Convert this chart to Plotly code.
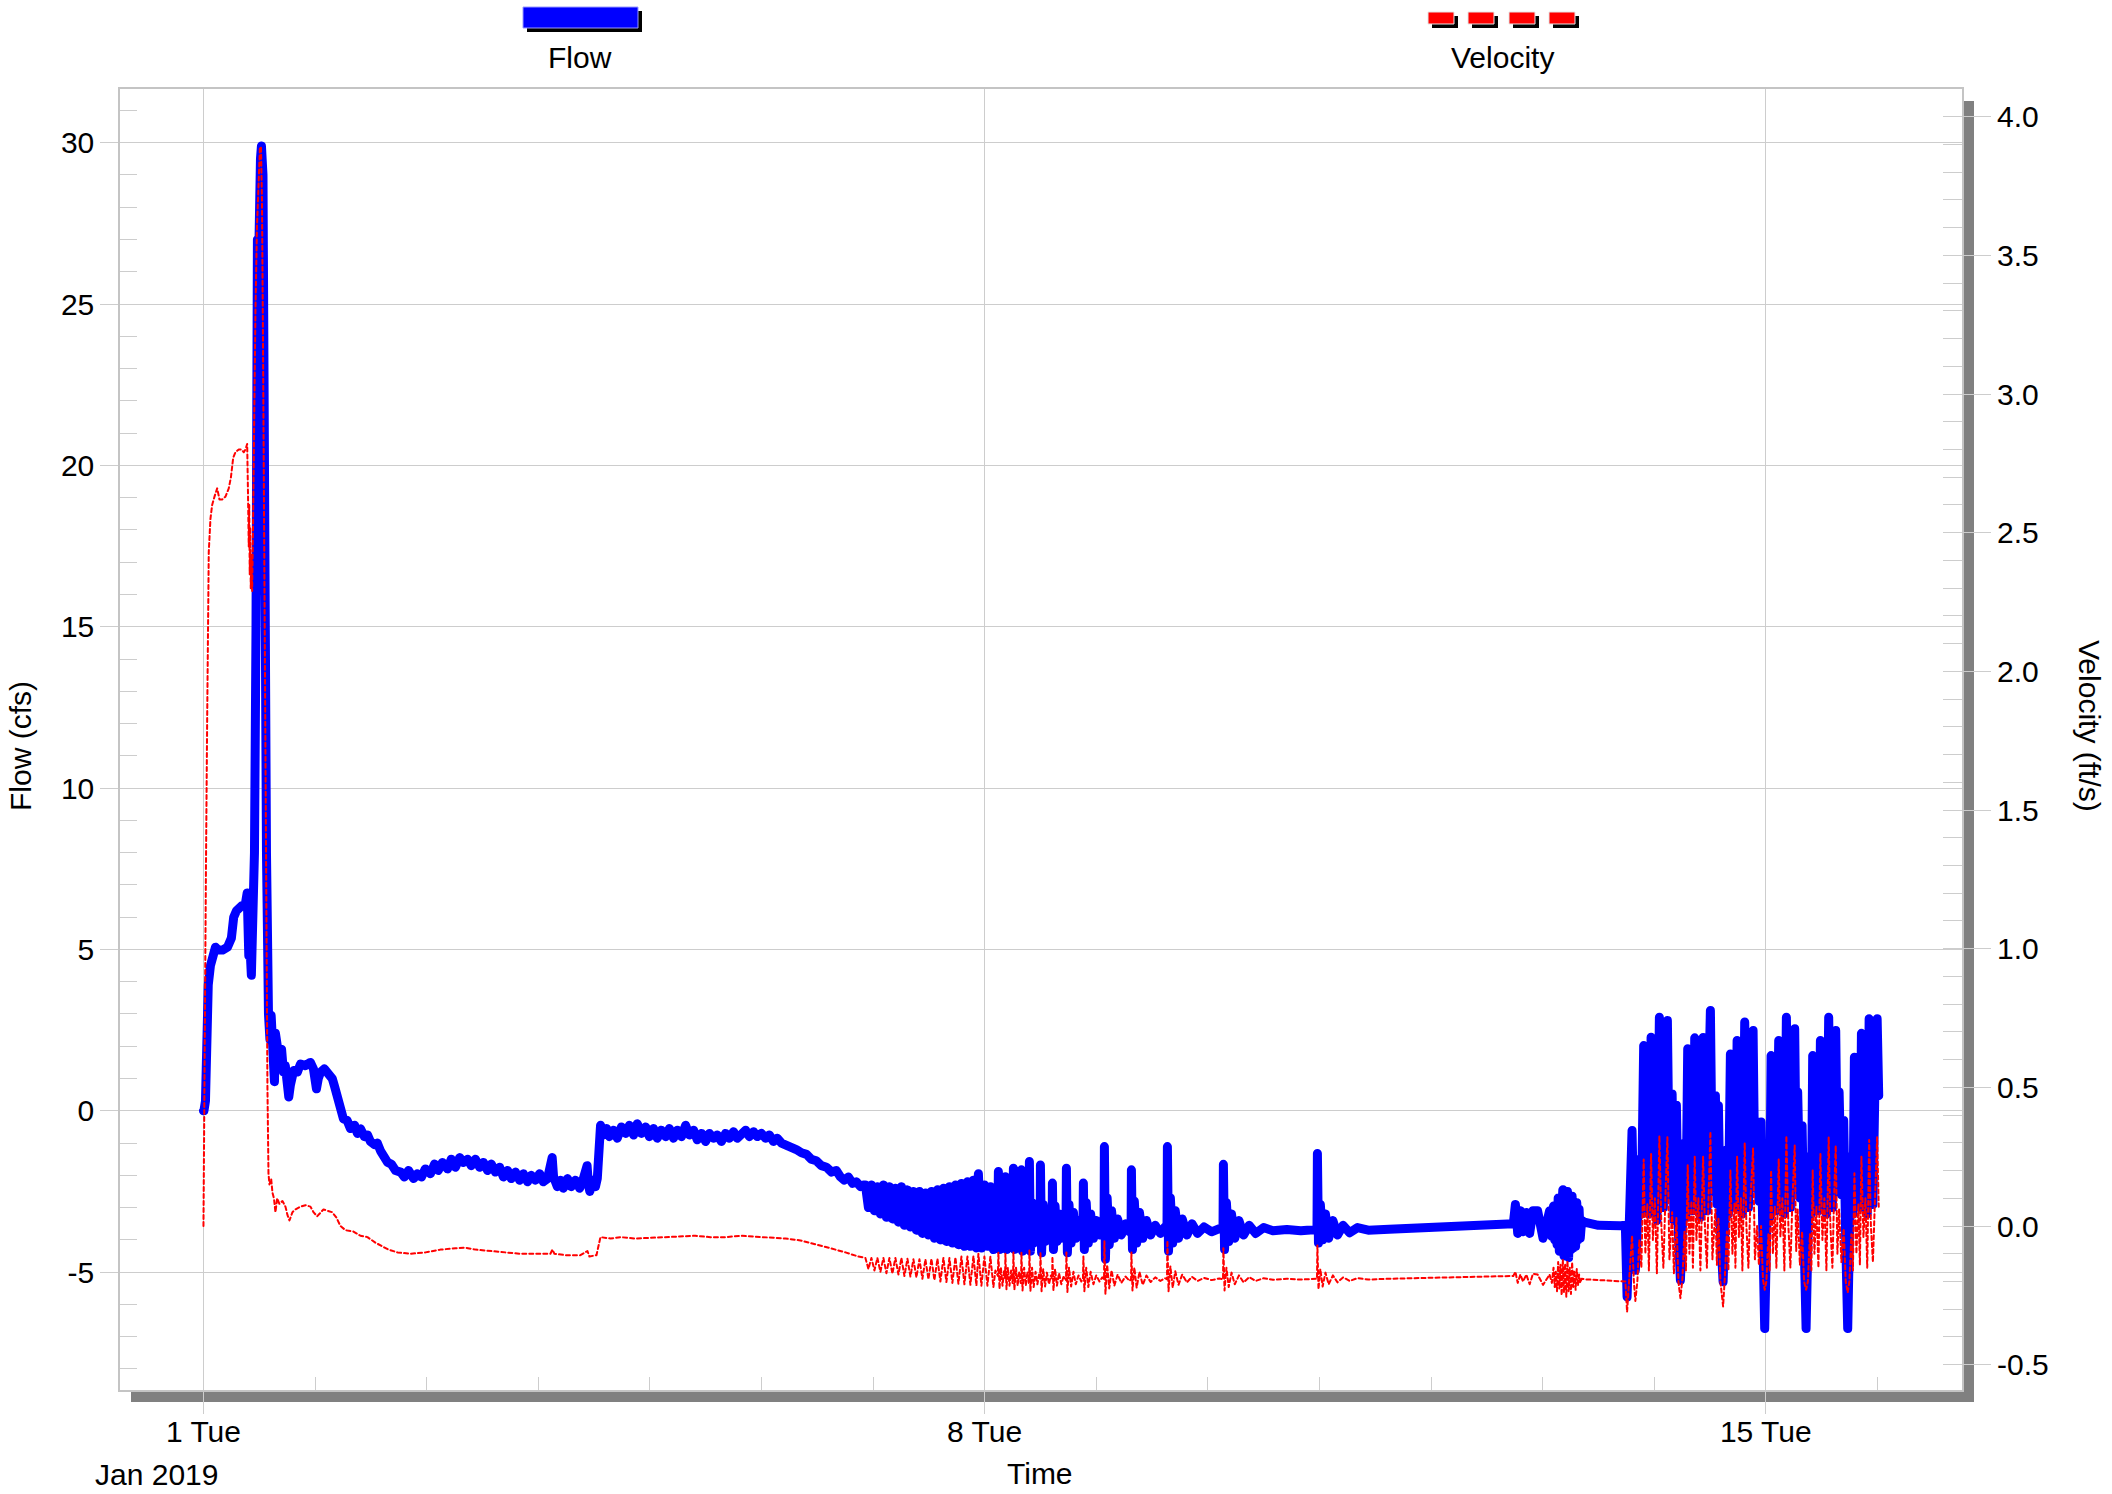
import pandas as pd
import plotly.graph_objects as go

START = pd.Timestamp("2019-01-01 00:00")

# ---- Jan 1 storm through Jan 7: flow (hours since start, cfs) ----
flow_hours_a = [
    0.0, 0.1, 0.43, 0.8, 1.03, 1.5, 2.04, 2.58, 3.2, 4.1,
    5.16, 6.0, 6.5, 7.1, 8.3, 9.0, 9.4, 9.55, 9.75, 10.0,
    10.3, 10.65, 10.97, 11.3, 11.6, 11.94, 12.26, 12.47, 12.8, 13.1,
    13.55, 13.98, 14.3, 14.56, 14.84, 15.27, 15.48, 15.85, 16.3, 16.8,
    17.2, 17.6, 18.35, 18.7, 19.4, 20.2, 20.86, 21.9, 23.0, 23.65,
    24.3, 24.7, 25.2, 26.0, 26.9, 27.7, 28.2, 28.75, 29.5, 30.1,
    30.9, 31.6, 32.5, 33.1, 33.8, 34.6, 35.3, 35.9, 36.8, 37.4,
    38.1, 38.9, 39.6, 40.4, 41.3, 42.4, 43.2, 44.1, 45.2, 46.0,
    46.9, 47.7, 48.8, 49.7, 50.5, 51.4, 52.5, 53.3, 54.2, 55.1,
    55.9, 56.8, 57.6, 58.5, 59.4, 60.2, 61.1, 61.9, 62.8, 63.7,
    64.5, 65.4, 66.2, 67.1, 68.0, 68.8, 69.7, 70.5, 71.4, 72.3,
    73.1, 74.0, 74.6, 75.0, 75.3, 76.1, 76.8, 77.4, 78.3, 79.1,
    80.0, 80.9, 81.5, 82.1, 82.5, 82.8, 83.1, 83.7, 84.3, 84.7,
    85.05, 85.4, 86.0, 86.7, 87.3, 88.2, 89.0, 89.9, 90.8, 91.6,
    92.5, 93.3, 94.2, 95.1, 95.9, 96.8, 97.6, 98.5, 99.4, 100.2,
    101.1, 101.9, 102.8, 103.7, 104.5, 105.4, 106.2, 107.1, 108.0, 108.8,
    109.7, 110.5, 111.4, 112.3, 113.1, 114.0, 114.8, 115.7, 116.6, 117.4,
    118.3, 119.1, 120.0, 120.9, 121.7, 122.6, 123.4, 124.3, 125.4, 126.4,
    127.5, 128.6, 129.7, 130.7, 131.8, 132.9, 134.0, 135.1, 136.1, 137.0,
    137.8, 138.7, 139.6, 140.4, 141.3, 141.9,
]
flow_cfs_a = [
    0.0, 0.0, 0.3, 2.95, 3.9, 4.5, 4.9, 5.07, 4.98, 4.98,
    5.07, 5.35, 6.0, 6.2, 6.36, 6.4, 6.75, 5.5, 4.8, 5.1,
    4.2, 5.5, 8.0, 15.0, 27.0, 26.9, 29.5, 29.9, 29.0, 15.0,
    8.0, 3.0, 2.2, 2.95, 1.6, 0.9, 2.4, 2.0, 1.6, 1.9,
    1.2, 1.4, 0.43, 0.8, 1.25, 1.2, 1.45, 1.4, 1.5, 1.3,
    0.68, 1.0, 1.2, 1.3, 1.15, 1.0, 0.75, 0.47, -0.03, -0.25,
    -0.3, -0.55, -0.45, -0.7, -0.56, -0.8, -0.75, -0.95, -1.05, -1.0,
    -1.25, -1.5, -1.6, -1.65, -1.85, -1.9, -2.05, -1.85, -2.1, -1.95,
    -2.05, -1.8, -1.95, -1.65, -1.85, -1.6, -1.8, -1.5, -1.75, -1.45,
    -1.6, -1.5, -1.7, -1.5, -1.75, -1.6, -1.85, -1.65, -1.9, -1.75,
    -2.05, -1.85, -2.1, -1.9, -2.15, -1.95, -2.2, -2.0, -2.15, -1.95,
    -2.2, -2.1, -1.8, -1.45, -2.05, -2.35, -2.15, -2.4, -2.1, -2.35,
    -2.15, -2.4, -2.2, -2.0, -1.7, -2.3, -2.5, -2.15, -2.35, -2.1,
    -1.2, -0.45, -0.75, -0.55, -0.8, -0.6, -0.85, -0.5, -0.7, -0.45,
    -0.75, -0.4, -0.7, -0.5, -0.8, -0.55, -0.85, -0.6, -0.8, -0.55,
    -0.85, -0.6, -0.8, -0.45, -0.75, -0.6, -0.9, -0.7, -0.95, -0.7,
    -0.85, -0.75, -0.95, -0.7, -0.85, -0.65, -0.85, -0.7, -0.6, -0.8,
    -0.65, -0.8, -0.7, -0.85, -0.75, -0.95, -0.85, -1.0, -1.05, -1.15,
    -1.2, -1.3, -1.35, -1.5, -1.55, -1.7, -1.75, -1.9, -1.85, -2.05,
    -2.15, -2.05, -2.25, -2.2, -2.35, -2.3,
]

# ---- Jan 1 storm through Jan 7: velocity (hours since start, ft/s) ----
vel_hours_a = [
    0.0, 0.32, 0.54, 0.8, 0.97, 1.14, 1.5, 1.87, 2.37, 2.95,
    3.44, 4.02, 4.73, 5.44, 5.91, 6.39, 6.88, 7.59, 8.17, 8.67,
    9.03, 9.4, 9.57, 9.74, 9.85, 9.95, 10.06, 10.17, 10.32, 10.47,
    10.64, 10.86, 11.18, 11.5, 11.83, 12.15, 12.37, 12.58, 12.8, 13.12,
    13.44, 13.76, 13.98, 14.19, 14.56, 14.84, 15.16, 15.48, 15.85, 16.34,
    16.99, 17.63, 18.06, 18.49, 19.14, 19.78, 20.86, 21.93, 23.01, 23.66,
    24.45, 25.16, 25.81, 26.67, 27.68, 28.6, 29.46, 30.54, 32.26, 33.76,
    35.27, 36.99, 38.06, 39.78, 41.72, 44.52, 47.74, 50.97, 54.19, 56.34,
    58.49, 61.72, 64.95, 68.17, 71.4, 74.62, 75.05, 75.48, 77.85, 81.07,
    82.58, 83.01, 84.52, 84.95, 85.38, 87.53, 89.68, 92.9, 96.13, 99.35,
    102.58, 105.8, 109.03, 112.26, 115.48, 118.71, 121.93, 125.16, 128.38, 131.61,
    134.83, 138.06, 140.86,
]
vel_fps_a = [
    0.0, 0.6, 1.3, 1.83, 2.2, 2.43, 2.55, 2.6, 2.63, 2.66,
    2.62, 2.62, 2.63, 2.66, 2.7, 2.77, 2.79, 2.8, 2.8, 2.79,
    2.8, 2.82, 2.65, 2.45, 2.6, 2.35, 2.52, 2.3, 2.42, 2.29,
    2.5, 2.9, 3.3, 3.6, 3.75, 3.89, 3.89, 3.7, 3.2, 2.2,
    1.2, 0.5, 0.19, 0.15, 0.17, 0.12, 0.1, 0.05, 0.1, 0.08,
    0.09, 0.07, 0.04, 0.02, 0.05, 0.06, 0.07, 0.075, 0.07, 0.05,
    0.035, 0.05, 0.06, 0.055, 0.05, 0.03, 0.0, -0.015, -0.02, -0.035,
    -0.04, -0.06, -0.07, -0.085, -0.095, -0.1, -0.095, -0.085, -0.08, -0.078,
    -0.085, -0.09, -0.095, -0.1, -0.1, -0.1, -0.085, -0.1, -0.105, -0.105,
    -0.09, -0.11, -0.105, -0.07, -0.04, -0.045, -0.04, -0.045, -0.042, -0.04,
    -0.037, -0.035, -0.04, -0.04, -0.035, -0.038, -0.04, -0.045, -0.052, -0.065,
    -0.08, -0.095, -0.11,
]

# ---- Jan 7 oscillation (both series on the same timestamps) ----
osc_hours = [
    142.36, 143.01, 143.65, 144.30, 144.94, 145.59, 146.23, 146.88, 147.52, 148.17,
    148.81, 149.46, 150.10, 150.75, 151.40, 152.04, 152.69, 153.33, 153.98, 154.62,
    155.27, 155.91, 156.56, 157.20, 157.85, 158.49, 159.14, 159.78, 160.43, 161.07,
    161.72, 162.36, 163.01, 163.65, 164.30, 164.94, 165.59, 166.23, 166.66, 167.31,
    167.95, 168.60, 169.24, 169.89, 170.32,
]
osc_flow = [
    -2.3, -3.0, -2.3, -3.1, -2.35, -3.2, -2.3, -3.3, -2.35, -3.35,
    -2.4, -3.45, -2.35, -3.55, -2.45, -3.6, -2.5, -3.7, -2.5, -3.8,
    -2.55, -3.85, -2.5, -3.95, -2.45, -4.0, -2.4, -4.05, -2.35, -4.1,
    -2.3, -4.15, -2.25, -4.2, -2.2, -4.2, -2.15, -4.25, -1.95, -4.25,
    -2.3, -4.2, -2.35, -4.3, -3.0,
]
osc_vel = [
    -0.115, -0.155, -0.115, -0.16, -0.115, -0.165, -0.115, -0.17, -0.115, -0.172,
    -0.115, -0.175, -0.115, -0.18, -0.118, -0.182, -0.12, -0.185, -0.12, -0.19,
    -0.12, -0.192, -0.118, -0.195, -0.118, -0.2, -0.115, -0.202, -0.115, -0.205,
    -0.113, -0.208, -0.11, -0.21, -0.11, -0.212, -0.108, -0.215, -0.1, -0.215,
    -0.11, -0.215, -0.11, -0.22, -0.16,
]

# ---- Jan 8 - Jan 12: surges with ringing ----
spike_hours = [
    170.85, 170.96, 171.2, 171.5, 171.85, 172.2, 172.4,
    172.47, 172.7, 173.0, 173.35, 173.7, 174.0, 174.12,
    174.19, 174.4, 174.75, 175.1, 175.45, 175.75, 175.85,
    175.91, 176.15, 176.5, 176.85, 177.2, 177.5, 177.58,
    177.63, 177.85, 178.2, 178.55, 178.95, 179.35, 179.7, 179.95,
    180.0, 180.25, 180.6, 181.0, 181.4, 181.85, 182.25, 182.52,
    182.58, 182.8, 183.15, 183.55, 184.0, 184.5, 185.0, 185.5,
    185.59, 185.8, 186.15, 186.6, 187.1, 187.6, 188.2, 188.8, 189.15,
    189.24, 189.45, 189.85, 190.3, 190.8, 191.4, 192.0, 192.7, 193.3, 193.68,
    193.76, 193.98, 194.35, 194.8, 195.3, 195.9, 196.6, 197.4, 198.3, 199.2, 199.5,
    199.57, 199.8, 200.2, 200.7, 201.3, 202.0, 202.8, 203.7, 204.7, 205.8, 206.8, 207.22,
    207.31, 207.55, 207.95, 208.45, 209.0, 209.7, 210.5, 211.5, 212.6, 213.8, 215.2, 216.8, 218.5, 219.27,
    219.35, 219.6, 220.0, 220.5, 221.1, 221.8, 222.7, 223.7, 224.9, 226.3, 228.0, 230.0, 233.0, 236.0, 239.48,
    239.57, 239.8, 240.2, 240.7, 241.3, 242.0, 242.9, 243.9, 245.1, 246.5, 248.2, 250.5, 255.0, 262.0, 270.0, 278.0, 281.7,
]
spike_flow = [
    -3.3, -1.88, -4.3, -2.9, -4.0, -3.1, -3.4,
    -2.04, -4.3, -2.8, -4.0, -3.0, -3.8, -3.3,
    -1.78, -4.3, -2.85, -4.05, -3.05, -3.9, -3.4,
    -1.83, -4.35, -2.9, -4.05, -3.1, -3.85, -3.4,
    -1.57, -4.35, -2.85, -4.1, -3.1, -3.95, -3.3, -3.6,
    -1.68, -4.4, -2.9, -4.05, -3.15, -3.95, -3.35, -3.65,
    -2.24, -4.3, -2.95, -4.05, -3.2, -3.95, -3.4, -3.7,
    -1.78, -4.4, -2.9, -4.1, -3.15, -3.95, -3.4, -3.85, -3.6,
    -2.24, -4.3, -2.85, -4.1, -3.2, -3.95, -3.4, -3.85, -3.55, -3.7,
    -1.11, -4.6, -2.7, -4.15, -3.1, -3.95, -3.35, -3.85, -3.5, -3.75, -3.65,
    -1.83, -4.3, -2.8, -4.1, -3.15, -3.95, -3.4, -3.85, -3.55, -3.8, -3.6, -3.7,
    -1.11, -4.35, -2.7, -4.1, -3.1, -3.95, -3.35, -3.85, -3.5, -3.8, -3.6, -3.75, -3.65, -3.7,
    -1.66, -4.3, -2.85, -4.05, -3.2, -3.95, -3.4, -3.85, -3.55, -3.8, -3.62, -3.72, -3.68, -3.72, -3.68,
    -1.32, -4.1, -2.9, -4.0, -3.2, -3.95, -3.4, -3.85, -3.55, -3.78, -3.62, -3.7, -3.67, -3.64, -3.6, -3.56, -3.5,
]
spike_vel = [
    -0.18, -0.095, -0.227, -0.15, -0.215, -0.16, -0.19,
    -0.1, -0.228, -0.15, -0.215, -0.16, -0.205, -0.18,
    -0.095, -0.23, -0.15, -0.215, -0.165, -0.205, -0.18,
    -0.095, -0.232, -0.15, -0.215, -0.165, -0.205, -0.18,
    -0.088, -0.235, -0.15, -0.22, -0.165, -0.21, -0.175, -0.19,
    -0.095, -0.235, -0.155, -0.218, -0.168, -0.21, -0.178, -0.19,
    -0.11, -0.232, -0.155, -0.215, -0.17, -0.21, -0.18, -0.195,
    -0.095, -0.238, -0.15, -0.218, -0.165, -0.21, -0.178, -0.2, -0.19,
    -0.11, -0.235, -0.15, -0.22, -0.165, -0.21, -0.178, -0.2, -0.185, -0.192,
    -0.055, -0.245, -0.14, -0.225, -0.16, -0.215, -0.175, -0.205, -0.182, -0.198, -0.19,
    -0.095, -0.232, -0.15, -0.222, -0.165, -0.212, -0.178, -0.202, -0.185, -0.198, -0.188, -0.192,
    -0.053, -0.235, -0.145, -0.222, -0.163, -0.212, -0.175, -0.203, -0.183, -0.198, -0.187, -0.195, -0.189, -0.192,
    -0.08, -0.232, -0.15, -0.22, -0.168, -0.21, -0.178, -0.203, -0.184, -0.198, -0.188, -0.194, -0.19, -0.193, -0.19,
    -0.07, -0.228, -0.155, -0.218, -0.168, -0.21, -0.178, -0.203, -0.185, -0.198, -0.188, -0.193, -0.19, -0.188, -0.186, -0.183, -0.18,
]

# ---- Jan 12 - Jan 13: short disturbance, then quiet ----
calm_hours = [
    282.15, 282.65, 283.22, 283.79, 284.5, 285.22, 285.93, 286.93, 288.1, 289.5, 290.0,
    290.35, 290.6, 290.85, 291.1, 291.35, 291.6, 291.85, 292.1, 292.35, 292.6,
    292.85, 293.1, 293.35, 293.6, 293.85, 294.1, 294.35, 294.6, 294.85, 295.1,
    295.35, 295.6, 295.85, 296.1, 296.4, 297.0, 300.0, 304.73,
]
calm_flow = [
    -2.9, -3.8, -3.1, -3.75, -3.15, -3.8, -3.1, -3.1, -3.95, -3.1, -3.9,
    -2.95, -4.0, -3.0, -4.15, -2.7, -4.35, -2.6, -4.2, -2.45, -4.5,
    -2.55, -4.4, -2.5, -4.55, -2.7, -4.3, -2.65, -4.25, -2.9, -4.2,
    -2.85, -4.0, -3.05, -3.95, -3.4, -3.45, -3.55, -3.56,
]
calm_vel = [
    -0.165, -0.205, -0.175, -0.2, -0.175, -0.21, -0.172, -0.175, -0.212, -0.175, -0.205,
    -0.15, -0.22, -0.165, -0.235, -0.13, -0.225, -0.14, -0.25, -0.12, -0.24,
    -0.135, -0.255, -0.125, -0.235, -0.15, -0.245, -0.13, -0.22, -0.16, -0.23,
    -0.155, -0.215, -0.175, -0.205, -0.19, -0.192, -0.195, -0.198,
]

# ---- Jan 13 - Jan 16: daily pumping cycles ----
cycle_hours = [
    305.8, 306.17, 306.55, 307.24, 307.63, 307.95, 308.38, 308.81, 309.24,
    309.74, 310.1, 310.53, 310.86, 311.33, 311.72, 312.15, 312.58, 313.12, 313.55,
    313.98, 314.41, 314.84, 315.28, 315.86, 316.24, 316.78, 317.21, 317.64, 318.07,
    318.5, 318.83,
    319.21, 319.58, 320.01, 320.33, 320.72, 321.08, 321.51, 321.94, 322.52, 322.91,
    323.34, 323.66, 324.09, 324.52, 325.17, 325.49, 325.81, 326.24, 326.82, 327.21,
    327.64, 327.96,
    328.39, 328.82, 329.25, 329.47, 329.83, 330.22, 330.65, 330.97, 331.47, 331.83,
    332.26, 332.69, 333.27, 333.66, 334.13, 334.52, 334.99, 335.38, 335.77, 336.13,
    336.56, 336.84,
    337.14, 337.53, 337.96, 338.28, 338.78, 339.14, 339.57, 340.0, 340.43, 340.86,
    341.29, 341.72, 342.22, 342.54, 342.86, 343.34, 343.81, 344.24, 344.67, 345.06,
    345.49, 345.81,
    346.09, 346.46, 346.89, 347.32, 347.75, 348.18, 348.61, 349.04, 349.53, 349.9,
    350.33, 350.65, 351.04, 351.4, 351.77, 352.26, 352.76, 353.19, 353.62, 353.98,
    354.41, 354.74,
    355.06, 355.49, 355.92, 356.24, 356.57, 357.0, 357.43, 357.82, 358.23, 358.61,
    359.04, 359.47, 359.95, 360.29,
]
cycle_flow = [
    -3.55, -5.77, -3.8, -0.61, -3.5, -4.94, -3.6, -1.5, -3.2,
    2.02, -2.5, 0.3, -3.2, 2.28, -1.8, 0.8, -3.4, 2.9, -0.8,
    -3.0, 0.9, 2.8, -2.6, 0.52, -3.4, 0.17, -3.8, -5.25, -3.6,
    -1.0, -3.3,
    1.92, -2.2, 0.6, -3.1, 2.26, -1.5, 0.7, -3.3, 2.27, -0.9,
    -3.1, 0.4, 3.11, -2.5, 0.47, -2.9, 0.16, -3.7, -5.3, -3.5,
    -1.2, -3.2,
    1.76, -2.3, 0.4, -3.0, 2.18, -1.4, 0.8, -3.2, 2.75, -0.8,
    -3.0, 0.6, 2.49, -2.4, -0.35, -2.8, -0.35, -4.0, -6.75, -4.2,
    -1.5, -3.3,
    1.71, -2.3, 0.5, -3.1, 2.18, -1.3, 0.7, -3.2, 2.9, -0.9,
    -3.0, 0.6, 2.54, -1.8, 0.58, -2.7, -0.46, -4.0, -6.75, -4.0,
    -1.4, -3.2,
    1.71, -2.2, 0.5, -3.1, 2.18, -1.4, 0.7, -3.2, 2.9, -0.9,
    -3.0, 0.6, 2.49, -1.9, 0.58, -2.6, -0.3, -4.0, -6.75, -4.0,
    -1.4, -3.2,
    1.66, -2.2, 0.6, -3.0, 2.4, -1.3, 0.8, -3.2, 2.85, -0.9,
    -2.9, 0.7, 2.85, 0.47,
]
cycle_vel = [
    -0.2, -0.31, -0.2, -0.035, -0.2, -0.27, -0.2, -0.05, -0.15,
    0.24, -0.1, 0.08, -0.16, 0.26, -0.05, 0.1, -0.17, 0.325, 0.0,
    -0.15, 0.1, 0.32, -0.12, 0.05, -0.17, 0.03, -0.2, -0.26, -0.19,
    -0.02, -0.16,
    0.22, -0.1, 0.09, -0.15, 0.25, -0.05, 0.1, -0.16, 0.25, 0.0,
    -0.15, 0.08, 0.34, -0.12, 0.06, -0.14, 0.03, -0.2, -0.29, -0.18,
    -0.02, -0.16,
    0.2, -0.1, 0.08, -0.15, 0.25, -0.04, 0.1, -0.16, 0.3, 0.0,
    -0.15, 0.09, 0.28, -0.12, 0.0, -0.14, 0.0, -0.19, -0.23, -0.2,
    -0.03, -0.16,
    0.2, -0.1, 0.07, -0.15, 0.24, -0.04, 0.1, -0.16, 0.325, 0.0,
    -0.15, 0.09, 0.29, -0.09, 0.06, -0.14, -0.02, -0.2, -0.23, -0.2,
    -0.03, -0.16,
    0.2, -0.1, 0.07, -0.15, 0.26, -0.05, 0.1, -0.16, 0.32, 0.0,
    -0.15, 0.08, 0.29, -0.1, 0.06, -0.13, -0.01, -0.2, -0.24, -0.2,
    -0.03, -0.16,
    0.19, -0.1, 0.08, -0.14, 0.25, -0.04, 0.1, -0.15, 0.31, 0.0,
    -0.13, 0.09, 0.32, 0.07,
]

# ---- axis ticks ----
time_tick_days = [0, 7, 14]
time_tick_text = ["1 Tue", "8 Tue", "15 Tue"]
flow_ticks = [-5, 0, 5, 10, 15, 20, 25, 30]
vel_ticks = [-0.5, 0.0, 0.5, 1.0, 1.5, 2.0, 2.5, 3.0, 3.5, 4.0]

FONT = "Liberation Sans, Arial, sans-serif"
GRID = "#cdcdcd"
FLOW_COLOR = "#0000ff"
VEL_COLOR = "#ff0000"

# plot-area geometry in pixels (used to place decorations outside the axes)
W, H = 2112, 1494
PL, PR, PT, PB = 120, 150, 89, 104
PW, PH = W - PL - PR, H - PT - PB


def fx(px):
    return (px - PL) / PW


def fy(py):
    return (H - PB - py) / PH


def to_time(hours):
    return START + pd.to_timedelta(pd.Series(hours, dtype=float), unit="h")


flow_t = to_time(flow_hours_a + osc_hours + spike_hours + calm_hours + cycle_hours)
flow_v = flow_cfs_a + osc_flow + spike_flow + calm_flow + cycle_flow
vel_t = to_time(vel_hours_a + osc_hours + spike_hours + calm_hours + cycle_hours)
vel_v = vel_fps_a + osc_vel + spike_vel + calm_vel + cycle_vel

fig = go.Figure()
fig.add_trace(go.Scatter(
    x=flow_t, y=flow_v, mode="lines", name="Flow",
    line=dict(color=FLOW_COLOR, width=9), yaxis="y",
))
fig.add_trace(go.Scatter(
    x=vel_t, y=vel_v, mode="lines", name="Velocity",
    line=dict(color=VEL_COLOR, width=2, dash="4px,3px"), yaxis="y2",
))
# carrier for the inner velocity tick marks
fig.add_trace(go.Scatter(x=[], y=[], yaxis="y3", showlegend=False))

x_range = [START + pd.Timedelta(hours=-17.95), START + pd.Timedelta(hours=378.2)]
flow_range = [-8.652, 31.664]
vel_range = [-0.5912, 4.0999]

fig.update_layout(
    width=W, height=H,
    margin=dict(l=PL, r=PR, t=PT, b=PB, pad=0),
    paper_bgcolor="white", plot_bgcolor="white",
    showlegend=False,
    font=dict(family=FONT, size=30, color="black"),
    xaxis=dict(
        type="date", range=x_range, automargin=False,
        tickmode="array",
        tickvals=[START + pd.Timedelta(days=d) for d in time_tick_days],
        ticktext=time_tick_text,
        ticks="outside", ticklen=22, tickwidth=1, tickcolor=GRID,
        ticklabelstandoff=-8,
        showgrid=True, gridcolor=GRID, gridwidth=1,
        showline=True, linecolor="#c4c4c4", linewidth=1.5, mirror=True,
        zeroline=False, tickfont=dict(size=30),
        minor=dict(tickmode="linear", tick0="2019-01-01", dtick=86400000,
                   ticks="inside", ticklen=13, tickwidth=1, tickcolor=GRID,
                   showgrid=False),
    ),
    yaxis=dict(
        range=flow_range, automargin=False,
        tickmode="array", tickvals=flow_ticks,
        ticktext=[str(v) for v in flow_ticks],
        ticks="outside", ticklen=18, tickwidth=1, tickcolor=GRID,
        showgrid=True, gridcolor=GRID, gridwidth=1,
        showline=True, linecolor="#c4c4c4", linewidth=1.5, mirror=True,
        zeroline=False, tickfont=dict(size=30),
        minor=dict(tickmode="linear", tick0=0, dtick=1, ticks="inside",
                   ticklen=17, tickwidth=1, tickcolor=GRID, showgrid=False),
    ),
    yaxis2=dict(
        range=vel_range, overlaying="y", side="right", automargin=False,
        tickmode="array", tickvals=vel_ticks,
        ticktext=[f"{v:.1f}" for v in vel_ticks],
        ticks="outside", ticklen=28, tickwidth=1, tickcolor=GRID,
        showgrid=False, zeroline=False, showline=False,
        tickfont=dict(size=30),
    ),
    yaxis3=dict(
        range=vel_range, overlaying="y", side="right", automargin=False,
        tickmode="linear", tick0=0, dtick=0.1,
        ticks="inside", ticklen=19, tickwidth=1, tickcolor=GRID,
        showticklabels=False, showgrid=False, zeroline=False, showline=False,
    ),
)

shapes = []
# drop shadow along the right and bottom of the plot frame
shapes.append(dict(type="rect", xref="paper", yref="paper", layer="below",
                   x0=1.0, x1=fx(1974), y0=fy(1402), y1=fy(101),
                   fillcolor="#808080", line=dict(width=0)))
shapes.append(dict(type="rect", xref="paper", yref="paper", layer="below",
                   x0=fx(131), x1=fx(1974), y0=fy(1402), y1=0.0,
                   fillcolor="#808080", line=dict(width=0)))

# legend keys drawn above the plot
shapes.append(dict(type="rect", xref="paper", yref="paper",
                   x0=fx(527), x1=fx(642), y0=fy(32), y1=fy(11),
                   fillcolor="black", line=dict(width=0)))
shapes.append(dict(type="rect", xref="paper", yref="paper",
                   x0=fx(523), x1=fx(638), y0=fy(28), y1=fy(7),
                   fillcolor=FLOW_COLOR, line=dict(color="#9a9aff", width=1)))
for left in [1428, 1468, 1509, 1549]:
    shapes.append(dict(type="rect", xref="paper", yref="paper",
                       x0=fx(left + 4), x1=fx(left + 30), y0=fy(28), y1=fy(16),
                       fillcolor="black", line=dict(width=0)))
    shapes.append(dict(type="rect", xref="paper", yref="paper",
                       x0=fx(left), x1=fx(left + 26), y0=fy(24), y1=fy(12),
                       fillcolor=VEL_COLOR, line=dict(color="#e6e6e6", width=1)))
fig.update_layout(shapes=shapes)

annotations = [
    dict(text="Flow", x=fx(580), y=fy(58)),
    dict(text="Velocity", x=fx(1502), y=fy(58)),
    dict(text="Flow (cfs)", x=fx(20), y=fy(746), textangle=-90),
    dict(text="Velocity (ft/s)", x=fx(2090), y=fy(726), textangle=90),
    dict(text="Time", x=fx(1040), y=fy(1473)),
    dict(text="Jan 2019", x=fx(156), y=fy(1474)),
]
for a in annotations:
    a.update(xref="paper", yref="paper", xanchor="center", yanchor="middle",
             showarrow=False, font=dict(family=FONT, size=30, color="black"))
fig.update_layout(annotations=annotations)

# rounded joins and caps for the trace lines
round_lines = (
    "document.querySelectorAll('path.js-line').forEach(function(p){"
    "p.style.strokeLinejoin='round';p.style.strokeLinecap='round';});"
)
fig.write_html("out.html", post_script=round_lines)
